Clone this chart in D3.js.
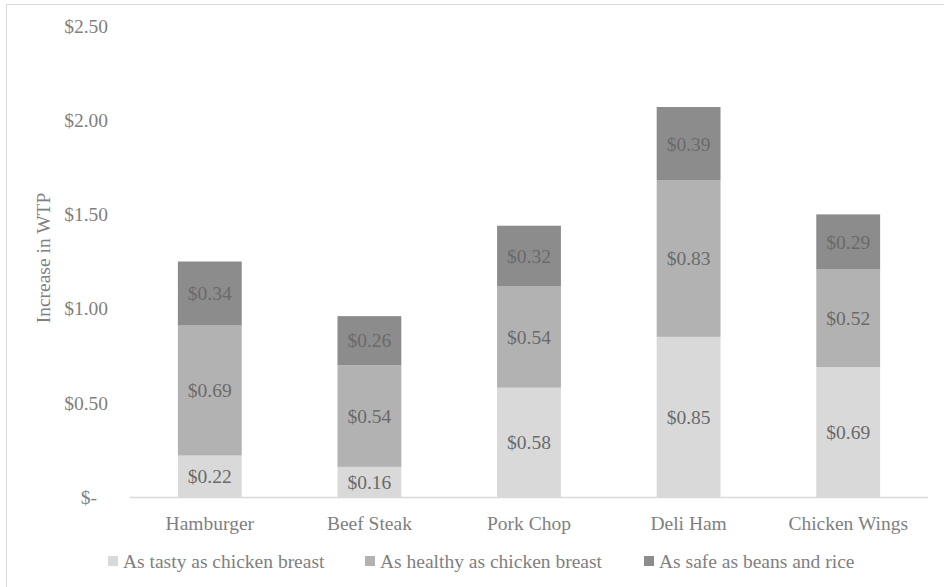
<!DOCTYPE html>
<html>
<head>
<meta charset="utf-8">
<script src="https://cdn.jsdelivr.net/npm/d3@7"></script>
<style>
  body { margin: 0; background: #fff; }
  text { font-family: "Liberation Serif", "Times New Roman", serif; }
</style>
</head>
<body>
<script>
const width = 944
const height = 587

const categories = ['Hamburger', 'Beef Steak', 'Pork Chop', 'Deli Ham', 'Chicken Wings']
const seriesNames = ['As tasty as chicken breast', 'As healthy as chicken breast', 'As safe as beans and rice']
const tasty = [0.22, 0.16, 0.58, 0.85, 0.69]
const healthy = [0.69, 0.54, 0.54, 0.83, 0.52]
const safe = [0.34, 0.26, 0.32, 0.39, 0.29]
const yTicks = [0, 0.5, 1.0, 1.5, 2.0, 2.5]
const colors = ['#d9d9d9', '#b2b2b2', '#8c8c8c']

const margin = {top: 26, right: 16, bottom: 90, left: 130}

// table for the stack
const rows = categories.map((c, i) => ({cat: c, s0: tasty[i], s1: healthy[i], s2: safe[i]}))
const stacked = d3.stack().keys(['s0', 's1', 's2'])(rows)

const x = d3.scaleBand()
    .domain(categories)
    .range([margin.left, width - margin.right])
    .paddingInner(0.6)
    .paddingOuter(0.3)

const y = d3.scaleLinear()
    .domain([0, 2.5])
    .range([height - margin.bottom, margin.top])

const svg = d3.select('body').append('svg')
    .attr('width', width)
    .attr('height', height)

// chart border
svg.append('rect')
    .attr('x', 6.5)
    .attr('y', 4.5)
    .attr('width', 940)
    .attr('height', 600)
    .attr('fill', 'none')
    .attr('stroke', '#d9d9d9')
    .attr('stroke-width', 1)

const layers = svg.selectAll('g.layer')
    .data(stacked)
    .join('g')
    .attr('class', 'layer')
    .attr('fill', (d, i) => colors[i])

layers.selectAll('rect')
    .data(d => d)
    .join('rect')
    .attr('x', d => x(d.data.cat))
    .attr('y', d => y(d[1]))
    .attr('width', x.bandwidth())
    .attr('height', d => y(d[0]) - y(d[1]))

// data labels
stacked.forEach(layer => {
    svg.append('g').selectAll('text')
        .data(layer)
        .join('text')
        .attr('x', d => x(d.data.cat) + x.bandwidth() / 2)
        .attr('y', d => (y(d[0]) + y(d[1])) / 2)
        .attr('dy', '0.35em')
        .attr('text-anchor', 'middle')
        .style('font-size', '19.5px')
        .style('fill', '#6a6a6a')
        .text(d => '$' + (d[1] - d[0]).toFixed(2))
})

// x axis line
svg.append('line')
    .attr('x1', margin.left)
    .attr('x2', width - margin.right)
    .attr('y1', y(0) + 0.5)
    .attr('y2', y(0) + 0.5)
    .style('stroke', '#d9d9d9')
    .style('stroke-width', 1.5)

const xAxis = svg.append('g')
    .attr('transform', `translate(0,${y(0)})`)
    .call(d3.axisBottom(x).tickSize(0).tickPadding(19))
xAxis.select('.domain').remove()
xAxis.selectAll('text')
    .style('font-size', '19.5px')
    .style('fill', '#808080')
    .style('font-family', '"Liberation Serif", serif')

const yAxis = svg.append('g')
    .attr('transform', `translate(108,0)`)
    .call(d3.axisLeft(y).tickValues(yTicks).tickSize(0).tickPadding(0)
        .tickFormat(d => d === 0 ? '$-' : '$' + d.toFixed(2)))
yAxis.select('.domain').remove()
yAxis.selectAll('text')
    .style('font-size', '19.5px')
    .style('fill', '#808080')
    .style('font-family', '"Liberation Serif", serif')
    .attr('x', d => d === 0 ? -11 : 0)

svg.append('text')
    .attr('transform', `translate(43,258) rotate(-90)`)
    .attr('text-anchor', 'middle')
    .attr('dy', '0.35em')
    .style('font-size', '19.5px')
    .style('fill', '#808080')
    .text('Increase in WTP')

// legend
const legendX = [108, 365, 644]
const legend = svg.append('g')
    .selectAll('g')
    .data(seriesNames)
    .join('g')
    .attr('transform', (d, i) => `translate(${legendX[i]},561)`)

legend.append('rect')
    .attr('x', 0)
    .attr('y', -5)
    .attr('width', 10)
    .attr('height', 10)
    .attr('fill', (d, i) => colors[i])

legend.append('text')
    .attr('x', 15)
    .attr('dy', '0.35em')
    .style('font-size', '19.5px')
    .style('fill', '#808080')
    .text(d => d)
</script>
</body>
</html>
